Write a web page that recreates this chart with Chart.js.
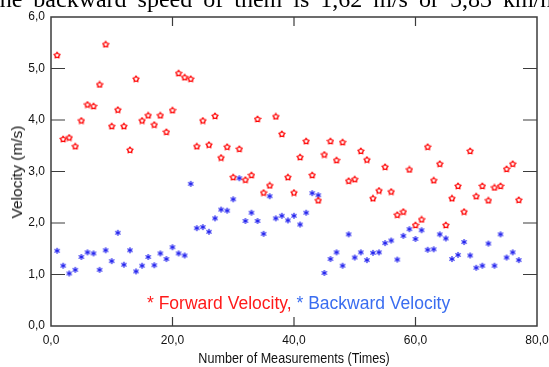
<!DOCTYPE html>
<html>
<head>
<meta charset="utf-8">
<script src="https://cdn.jsdelivr.net/npm/chart.js@4.4.0/dist/chart.umd.min.js"></script>
<style>
  body { margin: 0; background: #fff; }
  #wrap { position: relative; width: 549px; height: 367px; overflow: hidden; }
  #chart { position: absolute; left: 0; top: 0; }
  .caption { position: absolute; left: -7px; top: -15px; font: 24px "Liberation Serif", "Times New Roman", serif; line-height: 28px; word-spacing: 5px; white-space: nowrap; color: #000; }
  .legend { position: absolute; left: 147px; top: 293px; font: 17.5px "Liberation Sans", Arial, sans-serif; line-height: 20px; white-space: nowrap; }
  .fwd { color: #ff1a1a; }
  .bwd { color: #3a6df0; }
  .xtitle { position: absolute; left: 294px; top: 350px; font: 15px "Liberation Sans", Arial, sans-serif; line-height: 16px; white-space: nowrap; color: #111; transform: translateX(-50%) scaleX(0.84); }
  .ytitle { position: absolute; left: 17px; top: 172px; font: 15.5px "Liberation Sans", Arial, sans-serif; line-height: 16px; white-space: nowrap; color: #111; transform: translate(-50%, -50%) rotate(-90deg); }
</style>
</head>
<body>
<div id="wrap">
  <canvas id="chart" width="549" height="367"></canvas>
  <div class="caption">the backward speed of them is 1,62 m/s or 5,83 km/h</div>
  <div class="legend"><span class="fwd">* Forward Velocity,</span> <span class="bwd">* Backward Velocity</span></div>
  <div class="xtitle">Number of Measurements (Times)</div>
  <div class="ytitle">Velocity (m/s)</div>
</div>
<script>
const measurements = Array.from({ length: 77 }, (_, i) => i + 1);

const forwardVelocity = [
  5.26, 3.63, 3.66, 3.49, 3.99, 4.30, 4.27, 4.69, 5.47, 3.88,
  4.20, 3.88, 3.42, 4.80, 3.99, 4.09, 3.91, 4.09, 3.77, 4.19,
  4.91, 4.83, 4.80, 3.49, 3.99, 3.52, 4.08, 3.27, 3.48, 2.89,
  3.44, 2.84, 2.93, 4.02, 2.59, 2.73, 4.07, 3.73, 2.89, 2.59,
  3.28, 3.59, 2.93, 2.44, 3.33, 3.59, 3.22, 3.57, 2.82, 2.85,
  3.40, 3.23, 2.48, 2.63, 3.09, 2.61, 2.16, 2.22, 3.04, 1.96,
  2.07, 3.48, 2.83, 3.15, 1.96, 2.48, 2.72, 2.22, 3.40, 2.52,
  2.72, 2.44, 2.69, 2.72, 3.05, 3.15, 2.45
];

const backwardVelocity = [
  1.46, 1.17, 1.02, 1.09, 1.34, 1.43, 1.41, 1.09, 1.47, 1.26,
  1.81, 1.19, 1.47, 1.06, 1.17, 1.34, 1.18, 1.41, 1.30, 1.53,
  1.41, 1.37, 2.76, 1.90, 1.92, 1.83, 2.09, 2.26, 2.24, 2.46,
  2.87, 2.04, 2.20, 2.04, 1.79, 2.52, 2.09, 2.14, 2.05, 2.14,
  1.97, 2.20, 2.58, 2.54, 1.03, 1.30, 1.43, 1.17, 1.78, 1.33,
  1.43, 1.28, 1.42, 1.43, 1.61, 1.66, 1.29, 1.75, 1.88, 1.69,
  1.86, 1.48, 1.49, 1.78, 1.70, 1.30, 1.38, 1.63, 1.37, 1.13,
  1.17, 1.60, 1.17, 1.78, 1.33, 1.43, 1.28
];

const xTicks = [0, 20, 40, 60, 80];
const yTicks = [0, 1, 2, 3, 4, 5, 6];

// small marker images
const starMarker = () => {
    const c = document.createElement('canvas');
    c.width = 8; c.height = 8;
    const g = c.getContext('2d');
    g.beginPath();
    for (let i = 0; i < 10; i++) {
        const r = i % 2 === 0 ? 3.0 : 1.9;
        const a = -Math.PI / 2 + i * Math.PI / 5;
        g.lineTo(4 + r * Math.cos(a), 4.3 + r * Math.sin(a));
    }
    g.closePath();
    g.fillStyle = '#fff';
    g.fill();
    g.strokeStyle = '#ff0000';
    g.lineWidth = 1.3;
    g.stroke();
    return c;
}

const asteriskMarker = () => {
    const c = document.createElement('canvas');
    c.width = 8; c.height = 8;
    const g = c.getContext('2d');
    g.strokeStyle = '#1f1fee';
    g.lineWidth = 1.2;
    [90, 30, 150].forEach((deg) => {
        const a = deg * Math.PI / 180;
        g.beginPath();
        g.moveTo(4 - 3 * Math.cos(a), 4 - 3 * Math.sin(a));
        g.lineTo(4 + 3 * Math.cos(a), 4 + 3 * Math.sin(a));
        g.stroke();
    });
    return c;
}

const comma = (v) => v.toFixed(1).replace('.', ',');

// frame with inward tick marks
const framePlugin = {
    id: 'frame',
    afterDraw(chart) {
        const { ctx, chartArea: a, scales } = chart;
        ctx.save();
        ctx.strokeStyle = '#3c3c3c';
        ctx.lineWidth = 1.5;
        ctx.strokeRect(a.left, a.top, a.right - a.left, a.bottom - a.top);
        ctx.lineWidth = 1.2;
        ctx.beginPath();
        xTicks.slice(1, -1).forEach((v) => {
            const px = scales.x.getPixelForValue(v);
            ctx.moveTo(px, a.bottom); ctx.lineTo(px, a.bottom - 9);
            ctx.moveTo(px, a.top); ctx.lineTo(px, a.top + 9);
        });
        yTicks.slice(1, -1).forEach((v) => {
            const py = scales.y.getPixelForValue(v);
            ctx.moveTo(a.left, py); ctx.lineTo(a.left + 14, py);
            ctx.moveTo(a.right, py); ctx.lineTo(a.right - 14, py);
        });
        ctx.stroke();
        ctx.restore();
    }
}

const chart = new Chart(document.getElementById('chart'), {
    type: 'scatter',
    data: {
        datasets: [{
            label: 'Forward Velocity',
            data: measurements.map((x, i) => ({ x: x, y: forwardVelocity[i] })),
            pointStyle: starMarker(),
        }, {
            label: 'Backward Velocity',
            data: measurements.map((x, i) => ({ x: x, y: backwardVelocity[i] })),
            pointStyle: asteriskMarker(),
        }]
    },
    options: {
        responsive: false,
        animation: false,
        layout: { padding: { top: 17, right: 12, left: 0, bottom: 0 } },
        plugins: {
            legend: { display: false },
            tooltip: { enabled: false }
        },
        scales: {
            x: {
                type: 'linear',
                min: 0,
                max: 80,
                afterBuildTicks: (s) => { s.ticks = xTicks.map((v) => ({ value: v })); },
                afterFit: (s) => { s.height = 41; s.paddingLeft = 0; s.paddingRight = 0; },
                grid: { display: false, drawTicks: false },
                border: { display: false },
                ticks: {
                    callback: comma,
                    padding: 7,
                    maxRotation: 0,
                    color: '#111',
                    font: { family: '"Liberation Sans", Arial', size: 12 }
                }
            },
            y: {
                min: 0,
                max: 6,
                afterBuildTicks: (s) => { s.ticks = yTicks.map((v) => ({ value: v })); },
                afterFit: (s) => { s.width = 51; s.paddingTop = 0; s.paddingBottom = 0; },
                grid: { display: false, drawTicks: false },
                border: { display: false },
                ticks: {
                    callback: comma,
                    padding: 6,
                    color: '#111',
                    font: { family: '"Liberation Sans", Arial', size: 12 }
                }
            }
        }
    },
    plugins: [framePlugin]
});
</script>
</body>
</html>
